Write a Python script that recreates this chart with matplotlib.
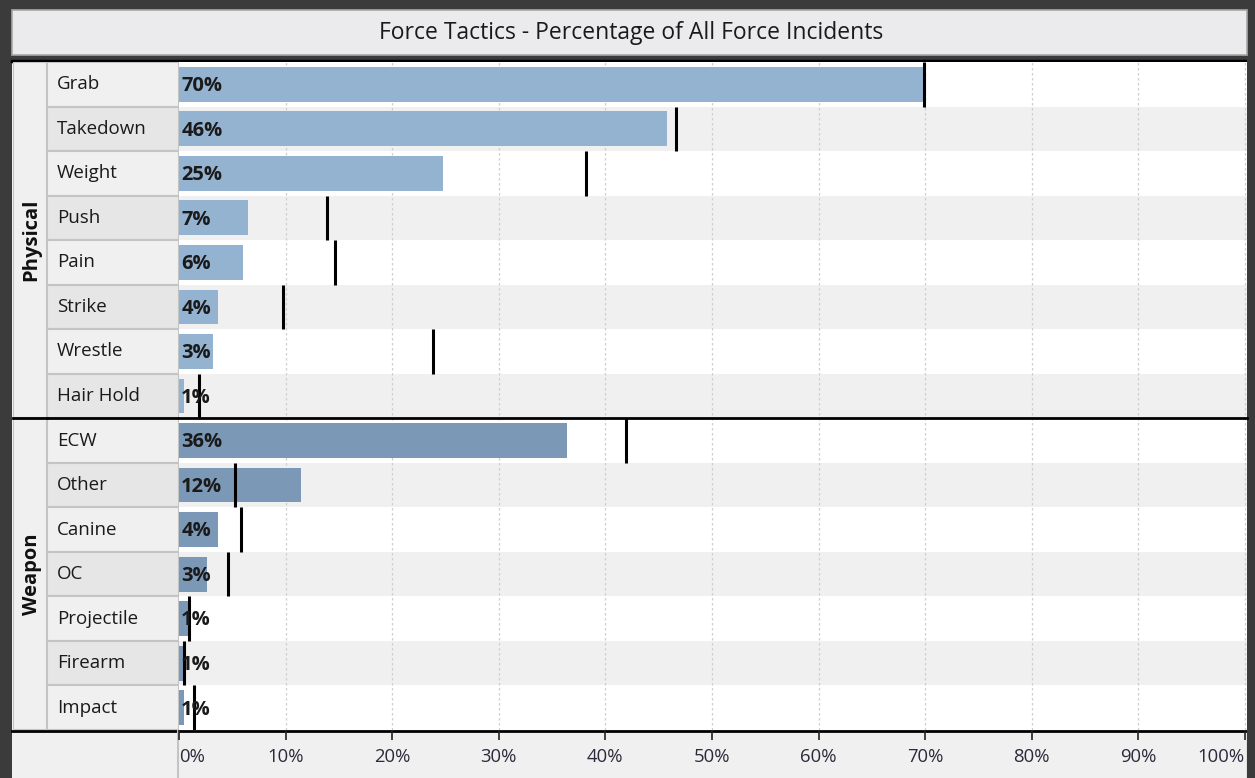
import matplotlib
matplotlib.use("Agg")
import matplotlib.pyplot as plt
from matplotlib.patches import Rectangle
import numpy as np

plt.rcParams['font.family'] = ['Open Sans', 'DejaVu Sans']

groups = ["Physical", "Weapon"]
physical_cats = ["Grab", "Takedown", "Weight", "Push", "Pain", "Strike", "Wrestle", "Hair Hold"]
physical_vals = [69.9, 45.8, 24.8, 6.5, 6.0, 3.7, 3.2, 0.5]
physical_marks = [69.9, 46.6, 38.2, 13.9, 14.6, 9.8, 23.8, 1.9]
physical_labels = ["70%", "46%", "25%", "7%", "6%", "4%", "3%", "1%"]

weapon_cats = ["ECW", "Other", "Canine", "OC", "Projectile", "Firearm", "Impact"]
weapon_vals = [36.4, 11.4, 3.7, 2.6, 0.85, 0.4, 0.5]
weapon_marks = [41.9, 5.3, 5.8, 4.6, 0.9, 0.5, 1.4]
weapon_labels = ["36%", "12%", "4%", "3%", "1%", "1%", "1%"]

ticks = [0, 10, 20, 30, 40, 50, 60, 70, 80, 90, 100]
tick_labels = ["0%", "10%", "20%", "30%", "40%", "50%", "60%", "70%", "80%", "90%", "100%"]
title = "Force Tactics - Percentage of All Force Incidents"

W, H = 1255, 778
fig = plt.figure(figsize=(W / 100, H / 100), dpi=100)
fig.patch.set_facecolor("#3b3b3b")

def px_axes(x0, y0, x1, y1, **kw):
    return fig.add_axes([x0 / W, 1 - y1 / H, (x1 - x0) / W, (y1 - y0) / H], **kw)

# background in pixel coords
bg = px_axes(0, 0, W, H)
bg.set_xlim(0, W)
bg.set_ylim(H, 0)
bg.axis("off")
bg.set_zorder(0)
bg.add_patch(Rectangle((12, 10), 1235, 45, facecolor="#ebebee", edgecolor="#a8a8a8", lw=1.2))
bg.add_patch(Rectangle((12, 60), 1235, 718, facecolor="#f0f0f0", edgecolor="none"))
bg.text(631, 33, title, ha="center", va="center", fontsize=16.5, color="#1a1a1a")

top, bottom = 62, 730
left_grp, left_lab, left_plot, right_plot = 13, 47, 179, 1247

cats = physical_cats + weapon_cats
vals = physical_vals + weapon_vals
marks = physical_marks + weapon_marks
labels = physical_labels + weapon_labels
colors = ["#94b3d1"] * len(physical_cats) + ["#7b98b6"] * len(weapon_cats)
n = len(cats)
y = np.arange(n)

ax = px_axes(left_plot, top, right_plot, bottom)
ax.set_zorder(2)
ax.set_xlim(0, 100.2)
ax.set_ylim(n - 0.5, -0.5)
for i in y:
    if i % 2 == 1:
        ax.axhspan(i - 0.5, i + 0.5, color="#f0f0f0", lw=0, zorder=0)
for t in ticks[1:]:
    ax.axvline(t, color="#cfcfcf", lw=0.9, ls=(0, (2, 2)), zorder=1)
ax.barh(y, vals, height=0.78, color=colors, zorder=2)
ax.vlines(marks, y - 0.5, y + 0.5, color="black", lw=2.2, zorder=4)
for i in y:
    ax.text(0.2, i + 0.04, labels[i], ha="left", va="center", fontsize=14.5,
            fontweight="bold", color="#1a1a1a", zorder=5)
for s in ax.spines.values():
    s.set_visible(False)
ax.set_yticks([])
ax.set_xticks(ticks)
ax.set_xticklabels(tick_labels, fontsize=13.3, color="#2a2a3a")
ax.tick_params(axis="x", length=7, width=1.2, color="#222222", pad=6)
xl = ax.get_xticklabels()
xl[0].set_horizontalalignment("left")
xl[-1].set_horizontalalignment("right")
ax.set_facecolor("white")

# label column
lab = px_axes(left_lab, top, left_plot, bottom, sharey=ax)
lab.set_zorder(1)
lab.set_xlim(0, 1)
lab.axis("off")
for i in y:
    fc = "#f0f0f0" if i % 2 == 0 else "#e6e6e6"
    lab.add_patch(Rectangle((0, i - 0.5), 1, 1, facecolor=fc, edgecolor="#c4c4c4", lw=1.5))
    lab.text(0.075, i, cats[i], ha="left", va="center", fontsize=13.5, color="#1a1a1a")

# group column
grp = px_axes(left_grp, top, left_lab, bottom, sharey=ax)
grp.set_zorder(1)
grp.set_xlim(0, 1)
grp.axis("off")
starts = [0, len(physical_cats)]
sizes = [len(physical_cats), len(weapon_cats)]
for g, s0, sz in zip(groups, starts, sizes):
    grp.add_patch(Rectangle((0, s0 - 0.5), 1, sz, facecolor="#f0f0f0", edgecolor="#c4c4c4", lw=1.5))
    grp.text(0.55, s0 - 0.5 + sz / 2, g, rotation=90, ha="center", va="center",
             fontsize=14.5, fontweight="bold", color="#111111")

# separator lines
sep = len(physical_cats) - 0.5
for a in (grp, lab, ax):
    a.axhline(sep, color="black", lw=2, zorder=6, clip_on=False)
bg.plot([12, 1247], [60.5, 60.5], color="black", lw=2.5)
bg.plot([12, 1247], [bottom + 0.5, bottom + 0.5], color="black", lw=2)
bg.plot([178, 178], [bottom, H], color="#c4c4c4", lw=1.5)
bg.plot([1248.5, 1248.5], [60, H], color="#3b3b3b", lw=3)

fig.savefig("out.png", dpi=100, facecolor=fig.get_facecolor())
